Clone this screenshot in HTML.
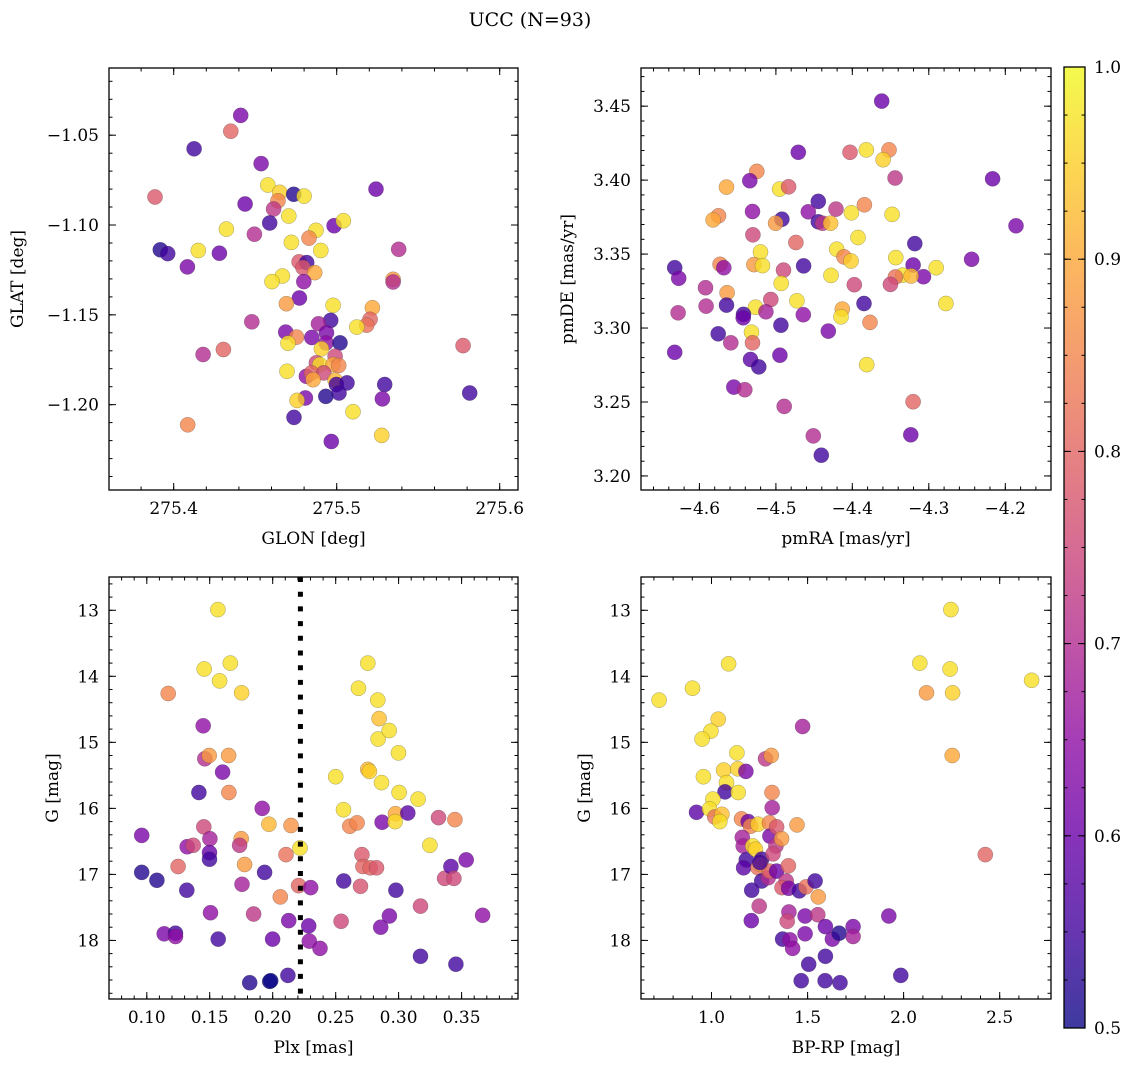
<!DOCTYPE html>
<html><head><meta charset="utf-8">
<style>
html,body{margin:0;padding:0;background:#fff;}
svg text{font-family:"DejaVu Serif","Liberation Serif",serif;fill:#000;}
</style></head>
<body>
<svg id="fig" width="1136" height="1067" viewBox="0 0 1136 1067" xmlns="http://www.w3.org/2000/svg">
<text x="530" y="26" font-size="19" text-anchor="middle">UCC (N=93)</text>
<defs>
<linearGradient id="plasma" x1="0" y1="1" x2="0" y2="0">
<stop offset="0" stop-color="#0d0887"/><stop offset="0.1" stop-color="#41049d"/><stop offset="0.2" stop-color="#6a00a8"/><stop offset="0.3" stop-color="#8f0da4"/><stop offset="0.4" stop-color="#b12a90"/><stop offset="0.5" stop-color="#cc4778"/><stop offset="0.6" stop-color="#e16462"/><stop offset="0.7" stop-color="#f2844b"/><stop offset="0.8" stop-color="#fca636"/><stop offset="0.9" stop-color="#fcce25"/><stop offset="1" stop-color="#f0f921"/>
</linearGradient>
</defs>
</svg>
<script>
// ---- Panel 1: GLON / GLAT ----
const glon = [275.4411,275.4350,275.4125,275.4536,275.3885,275.5241,275.4577,275.4650,275.4736,275.4800,275.4640,275.4438,275.4613,275.4706,275.4589,275.4323,275.4495,275.4984,275.5041,275.4873,275.4830,275.4722,275.4902,275.5380,275.3918,275.3963,275.4151,275.4280,275.4084,275.4769,275.4816,275.4793,275.4865,275.4667,275.4603,275.4798,275.5346,275.5346,275.4771,275.4691,275.4978,275.5219,275.5205,275.5184,275.5123,275.4963,275.4888,275.4479,275.4687,275.4753,275.4701,275.4847,275.4937,275.4935,275.4906,275.5020,275.4180,275.4305,275.5775,275.4990,275.4875,275.4896,275.4978,275.5012,275.4695,275.4814,275.4845,275.4920,275.4855,275.4990,275.4998,275.5063,275.5294,275.5014,275.4933,275.4808,275.4757,275.5280,275.5816,275.4738,275.5100,275.4086,275.5276,275.4967];
const glat = [-1.0390,-1.0478,-1.0576,-1.0658,-1.0844,-1.0800,-1.0777,-1.0818,-1.0829,-1.0839,-1.0865,-1.0883,-1.0911,-1.0950,-1.0989,-1.1023,-1.1051,-1.1004,-1.0976,-1.1030,-1.1073,-1.1097,-1.1142,-1.1135,-1.1138,-1.1159,-1.1142,-1.1157,-1.1233,-1.1205,-1.1209,-1.1237,-1.1265,-1.1284,-1.1315,-1.1315,-1.1302,-1.1317,-1.1406,-1.1438,-1.1447,-1.1460,-1.1525,-1.1557,-1.1568,-1.1531,-1.1550,-1.1539,-1.1596,-1.1624,-1.1658,-1.1626,-1.1600,-1.1656,-1.1689,-1.1656,-1.1721,-1.1693,-1.1671,-1.1730,-1.1767,-1.1777,-1.1777,-1.1782,-1.1814,-1.1842,-1.1823,-1.1823,-1.1861,-1.1864,-1.1888,-1.1879,-1.1888,-1.1935,-1.1954,-1.1963,-1.1976,-1.1968,-1.1935,-1.2071,-1.2039,-1.2112,-1.2171,-1.2205];
const prob1 = [0.62,0.8,0.55,0.62,0.78,0.6,0.97,0.95,0.52,0.97,0.85,0.6,0.72,0.97,0.55,0.97,0.7,0.6,0.97,0.97,0.85,0.97,0.97,0.7,0.52,0.55,0.97,0.6,0.62,0.78,0.55,0.78,0.9,0.97,0.97,0.65,0.88,0.7,0.6,0.88,0.97,0.9,0.8,0.82,0.97,0.55,0.68,0.7,0.62,0.85,0.97,0.62,0.62,0.65,0.95,0.52,0.7,0.8,0.78,0.75,0.75,0.97,0.9,0.85,0.97,0.65,0.8,0.75,0.9,0.92,0.55,0.55,0.55,0.55,0.52,0.62,0.95,0.62,0.55,0.55,0.97,0.85,0.95,0.6];
// ---- Panel 2: pmRA / pmDE ----
const pmra = [-4.3616,-4.4707,-4.4031,-4.3817,-4.3520,-4.3598,-4.3441,-4.2166,-4.5249,-4.5341,-4.5646,-4.4952,-4.4834,-4.4445,-4.4214,-4.3843,-4.5306,-4.4576,-4.4013,-4.3480,-4.5751,-4.5821,-4.4921,-4.5004,-4.4445,-4.4389,-4.4284,-4.1860,-4.5301,-4.4738,-4.3926,-4.3183,-4.5201,-4.4205,-4.4109,-4.4017,-4.3432,-4.2441,-4.6323,-4.6271,-4.5729,-4.5681,-4.5288,-4.5175,-4.4638,-4.4900,-4.3205,-4.2904,-4.3070,-4.3341,-4.3231,-4.3437,-4.3502,-4.4279,-4.3974,-4.4930,-4.5921,-4.5638,-4.5066,-4.4725,-4.5913,-4.5646,-4.6279,-4.3847,-4.4131,-4.4148,-4.2777,-4.5266,-4.5131,-4.5424,-4.5428,-4.4642,-4.4934,-4.3769,-4.4314,-4.5755,-4.5319,-4.5306,-4.5590,-4.6323,-4.4948,-4.5332,-4.5223,-4.3812,-4.5550,-4.5406,-4.4891,-4.3205,-4.4511,-4.3236,-4.4406];
const pmde = [3.4534,3.4188,3.4188,3.4204,3.4204,3.4138,3.4014,3.4009,3.4059,3.3996,3.3953,3.3939,3.3955,3.3856,3.3804,3.3833,3.3788,3.3786,3.3779,3.3768,3.3759,3.3731,3.3736,3.3709,3.3718,3.3709,3.3709,3.3691,3.3630,3.3578,3.3612,3.3571,3.3514,3.3533,3.3481,3.3453,3.3476,3.3465,3.3408,3.3336,3.3431,3.3408,3.3429,3.3422,3.3420,3.3392,3.3426,3.3408,3.3347,3.3358,3.3352,3.3345,3.3295,3.3356,3.3293,3.3302,3.3273,3.3239,3.3193,3.3184,3.3148,3.3155,3.3103,3.3166,3.3128,3.3076,3.3166,3.3141,3.3110,3.3092,3.3069,3.3090,3.3019,3.3038,3.2979,3.2961,3.2972,3.2900,3.2900,3.2836,3.2816,3.2787,3.2737,3.2753,3.2601,3.2583,3.2470,3.2502,3.2271,3.2278,3.2140];
const prob2 = [0.6,0.6,0.78,0.97,0.85,0.95,0.72,0.6,0.85,0.62,0.9,0.97,0.78,0.55,0.72,0.85,0.65,0.65,0.97,0.97,0.85,0.9,0.55,0.88,0.55,0.72,0.93,0.62,0.75,0.8,0.97,0.55,0.97,0.97,0.85,0.95,0.97,0.62,0.55,0.62,0.85,0.65,0.88,0.97,0.55,0.75,0.6,0.97,0.62,0.97,0.92,0.82,0.75,0.97,0.75,0.97,0.7,0.88,0.75,0.97,0.7,0.55,0.7,0.55,0.9,0.97,0.97,0.97,0.68,0.55,0.6,0.65,0.55,0.85,0.62,0.55,0.97,0.8,0.7,0.6,0.6,0.58,0.55,0.97,0.62,0.7,0.7,0.8,0.7,0.6,0.55];
// ---- Panel 3: Plx / G ----
const plx = [0.096,0.096,0.108,0.117,0.1138,0.1228,0.1228,0.1249,0.1318,0.1321,0.1369,0.1414,0.1448,0.1456,0.1461,0.1496,0.1453,0.1501,0.1498,0.1498,0.1506,0.1565,0.1578,0.1602,0.1567,0.1663,0.1650,0.1652,0.1753,0.1750,0.1737,0.1777,0.1756,0.1848,0.1817,0.1917,0.1936,0.1970,0.1999,0.1976,0.1984,0.2060,0.2106,0.2145,0.2127,0.2121,0.2217,0.2206,0.2302,0.2286,0.2291,0.2376,0.2500,0.2562,0.2564,0.2543,0.2612,0.2670,0.2681,0.2697,0.2708,0.2716,0.2755,0.2755,0.2768,0.2774,0.2824,0.2835,0.2845,0.2837,0.2864,0.2869,0.2858,0.2925,0.2927,0.2975,0.2972,0.2978,0.2999,0.3004,0.3073,0.3155,0.3174,0.3174,0.3248,0.3317,0.3365,0.3415,0.3439,0.3447,0.3455,0.3537,0.3667];
const gmag3 = [16.41,16.97,17.09,14.26,17.90,17.89,17.94,16.88,17.24,16.58,16.56,15.76,14.75,13.89,15.25,15.20,16.28,16.46,16.67,16.77,17.58,12.99,14.07,15.45,17.98,13.80,15.20,15.76,14.25,16.46,16.56,16.85,17.15,17.60,18.64,16.00,16.97,16.24,17.98,18.62,18.61,17.34,16.70,16.26,17.70,18.53,16.60,17.17,17.20,17.78,18.01,18.12,15.52,16.02,17.10,17.71,16.27,16.22,14.18,17.18,16.70,16.88,13.80,15.41,15.44,16.90,16.90,14.36,14.64,14.95,15.61,16.21,17.80,14.82,17.63,16.08,16.20,17.24,15.16,15.76,16.07,15.86,17.48,18.24,16.56,16.14,17.06,16.88,17.06,16.17,18.36,16.78,17.62];
const prob3 = [0.62,0.52,0.52,0.85,0.62,0.55,0.65,0.8,0.55,0.65,0.75,0.55,0.65,0.97,0.7,0.88,0.75,0.68,0.6,0.55,0.65,0.97,0.97,0.62,0.55,0.97,0.88,0.85,0.95,0.88,0.72,0.88,0.68,0.72,0.52,0.65,0.55,0.92,0.6,0.5,0.5,0.85,0.82,0.87,0.62,0.55,0.97,0.8,0.65,0.6,0.65,0.65,0.97,0.97,0.55,0.75,0.85,0.85,0.97,0.77,0.78,0.8,0.97,0.92,0.95,0.8,0.78,0.97,0.93,0.97,0.97,0.62,0.62,0.97,0.62,0.9,0.96,0.55,0.97,0.97,0.58,0.97,0.75,0.55,0.97,0.75,0.75,0.58,0.75,0.85,0.55,0.62,0.65];
const plxCut = 0.222;
// ---- Panel 4: BP-RP / G ----
const bprp = [0.727,0.901,1.089,1.035,0.997,0.951,1.132,0.958,1.063,1.137,1.179,1.078,1.070,1.139,1.007,0.922,0.990,1.017,1.054,1.043,1.156,1.191,1.203,1.242,1.160,1.165,1.181,1.167,1.215,1.229,1.261,1.242,1.255,1.261,1.295,1.302,1.209,1.248,1.207,1.281,1.311,1.315,1.316,1.302,1.304,1.339,1.335,1.320,1.365,1.339,1.400,1.389,1.367,1.401,1.445,1.474,1.457,1.492,1.539,1.556,1.403,1.394,1.487,1.553,1.370,1.408,1.422,1.487,1.593,1.629,1.664,1.737,1.737,1.506,1.593,1.467,1.591,1.669,1.985,1.923,2.084,2.246,2.242,2.119,2.255,2.253,2.425,2.666,1.252];
const gmag4 = [14.36,14.18,13.81,14.65,14.83,14.95,15.16,15.52,15.42,15.40,15.44,15.61,15.75,15.76,15.86,16.06,16.01,16.13,16.09,16.20,16.16,16.20,16.27,16.24,16.44,16.57,16.78,16.90,16.57,16.62,16.77,16.90,16.85,17.10,17.05,16.95,17.24,17.48,17.70,15.25,15.20,15.76,15.99,16.22,16.42,16.28,16.57,16.69,16.46,16.95,16.87,17.10,17.20,17.21,16.25,14.76,17.25,17.19,17.10,17.34,17.57,17.71,17.63,17.61,17.98,17.99,18.12,17.90,17.79,17.98,17.89,17.79,17.94,18.36,18.24,18.61,18.61,18.64,18.53,17.63,13.80,12.99,13.89,14.25,14.25,15.20,16.70,14.06,16.82];
const prob4 = [0.97,0.97,0.97,0.95,0.97,0.97,0.97,0.97,0.95,0.95,0.62,0.97,0.55,0.97,0.97,0.58,0.97,0.82,0.93,0.97,0.85,0.6,0.85,0.95,0.68,0.68,0.55,0.58,0.97,0.95,0.55,0.82,0.88,0.55,0.7,0.8,0.55,0.72,0.6,0.72,0.88,0.85,0.68,0.85,0.62,0.78,0.72,0.75,0.88,0.6,0.8,0.72,0.78,0.62,0.88,0.68,0.55,0.82,0.55,0.88,0.68,0.75,0.62,0.72,0.55,0.65,0.65,0.62,0.6,0.62,0.52,0.62,0.68,0.55,0.55,0.55,0.55,0.55,0.55,0.62,0.97,0.97,0.97,0.88,0.95,0.9,0.8,0.97,0.55];
// ---- colorbar ----
const cbTicks = [0.5,0.6,0.7,0.8,0.9,1.0];
const cbLabels = ["0.5","0.6","0.7","0.8","0.9","1.0"];

const NS = "http://www.w3.org/2000/svg";
const svg = document.getElementById('fig');
const FS = 17;
const stops = [[13,8,135],[65,4,157],[106,0,168],[143,13,164],[177,42,144],[204,71,120],[225,100,98],[242,132,75],[252,166,54],[252,206,37],[240,249,33]];
function cmap(v){
  let t = Math.max(0, Math.min(1, (v - 0.5) / 0.5)) * 10;
  const i = Math.min(9, Math.floor(t)), f = t - i;
  const a = stops[i], b = stops[i+1];
  return 'rgb(' + [0,1,2].map(k => Math.round(a[k] + (b[k]-a[k])*f)).join(',') + ')';
}
function el(tag, attrs, parent){
  const e = document.createElementNS(NS, tag);
  for (const k in attrs) e.setAttribute(k, attrs[k]);
  (parent || svg).appendChild(e);
  return e;
}
function fmt(v, d){ return v.toFixed(d).replace('-', '\u2212'); }

function panel(cfg){
  const g = el('g', {});
  
  
  const L = cfg.box[0], R = cfg.box[1], T = cfg.box[2], B = cfg.box[3];
  const sx = v => L + (v - cfg.xlim[0]) / (cfg.xlim[1] - cfg.xlim[0]) * (R - L);
  const sy = v => T + (v - cfg.ylim[0]) / (cfg.ylim[1] - cfg.ylim[0]) * (B - T);
  const pg = el('g', {}, g);
  
  
  for (let i = 0; i < cfg.xs.length; i++){
    const c = el('circle', {cx: sx(cfg.xs[i]).toFixed(1), cy: sy(cfg.ys[i]).toFixed(1), r: 7.6, fill: cmap(cfg.cs[i]), 'fill-opacity': 0.8, stroke: 'rgba(60,60,60,0.45)', 'stroke-width': 0.5}, pg);
    
    
  }
  if (cfg.vline !== undefined){
    const vl = el('line', {x1: sx(cfg.vline), x2: sx(cfg.vline), y1: T, y2: B, stroke: '#000', 'stroke-width': 5, 'stroke-dasharray': '5 9.7'}, g);
    
    
  }
  const fr = el('rect', {x: L, y: T, width: R - L, height: B - T, fill: 'none', stroke: '#000', 'stroke-width': 1.3}, g);
  
  
  const tk = el('g', {stroke: '#000', 'stroke-width': 1}, g);
  
  
  const xmin = Math.min(cfg.xlim[0], cfg.xlim[1]), xmax = Math.max(cfg.xlim[0], cfg.xlim[1]);
  const ymin = Math.min(cfg.ylim[0], cfg.ylim[1]), ymax = Math.max(cfg.ylim[0], cfg.ylim[1]);
  for (let v = Math.ceil(xmin / cfg.xminor) * cfg.xminor; v <= xmax; v += cfg.xminor){
    const x = sx(v).toFixed(1);
    el('line', {x1: x, x2: x, y1: B, y2: B - 3.5}, tk);
    el('line', {x1: x, x2: x, y1: T, y2: T + 3.5}, tk);
  }
  for (let v = Math.ceil(ymin / cfg.yminor) * cfg.yminor; v <= ymax; v += cfg.yminor){
    const y = sy(v).toFixed(1);
    el('line', {x1: L, x2: L + 3.5, y1: y, y2: y}, tk);
    el('line', {x1: R, x2: R - 3.5, y1: y, y2: y}, tk);
  }
  cfg.xticks.forEach(v => {
    const x = sx(v).toFixed(1);
    el('line', {x1: x, x2: x, y1: B, y2: B - 7}, tk);
    el('line', {x1: x, x2: x, y1: T, y2: T + 7}, tk);
    const t = el('text', {x: x, y: B + 24, 'font-size': FS, 'text-anchor': 'middle'}, g);
    t.textContent = fmt(v, cfg.xdec);
    
    
  });
  cfg.yticks.forEach(v => {
    const y = sy(v);
    el('line', {x1: L, x2: L + 7, y1: y, y2: y}, tk);
    el('line', {x1: R, x2: R - 7, y1: y, y2: y}, tk);
    const t = el('text', {x: L - 10, y: y + 6, 'font-size': FS, 'text-anchor': 'end'}, g);
    t.textContent = fmt(v, cfg.ydec);
    
    
  });
  const xt = el('text', {x: (L + R) / 2, y: B + 54, 'font-size': FS, 'text-anchor': 'middle'}, g);
  xt.textContent = cfg.xlabel;
  
  
  const yt = el('text', {x: 0, y: 0, 'font-size': FS, 'text-anchor': 'middle', transform: 'translate(' + cfg.ylabx + ',' + ((T + B) / 2) + ') rotate(-90)'}, g);
  yt.textContent = cfg.ylabel;
  
  
}

panel({name: 'glon-glat-panel', box: [109, 518, 68, 490], xlim: [275.3603, 275.6112], ylim: [-1.0126, -1.2475],
  xs: glon, ys: glat, cs: prob1, xticks: [275.4, 275.5, 275.6], yticks: [-1.05, -1.10, -1.15, -1.20], xdec: 1, ydec: 2,
  xminor: 0.02, yminor: 0.01, xlabel: 'GLON [deg]', ylabel: 'GLAT [deg]', ylabx: 23});
panel({name: 'pmra-pmde-panel', box: [641, 1051, 68, 490], xlim: [-4.6764, -4.1402], ylim: [3.4758, 3.1905],
  xs: pmra, ys: pmde, cs: prob2, xticks: [-4.6, -4.5, -4.4, -4.3, -4.2], yticks: [3.45, 3.40, 3.35, 3.30, 3.25, 3.20], xdec: 1, ydec: 2,
  xminor: 0.02, yminor: 0.01, xlabel: 'pmRA [mas/yr]', ylabel: 'pmDE [mas/yr]', ylabx: 573});
panel({name: 'plx-g-panel', box: [109, 518, 577, 999], xlim: [0.070, 0.3948], ylim: [12.496, 18.887],
  xs: plx, ys: gmag3, cs: prob3, xticks: [0.10, 0.15, 0.20, 0.25, 0.30, 0.35], yticks: [13, 14, 15, 16, 17, 18], xdec: 2, ydec: 0,
  xminor: 0.01, yminor: 0.2, xlabel: 'Plx [mas]', ylabel: 'G [mag]', ylabx: 58, vline: plxCut});
panel({name: 'color-g-panel', box: [641, 1051, 577, 999], xlim: [0.633, 2.767], ylim: [12.496, 18.887],
  xs: bprp, ys: gmag4, cs: prob4, xticks: [1.0, 1.5, 2.0, 2.5], yticks: [13, 14, 15, 16, 17, 18], xdec: 1, ydec: 0,
  xminor: 0.1, yminor: 0.2, xlabel: 'BP-RP [mag]', ylabel: 'G [mag]', ylabx: 590});

(function(){
  const L = 1064, R = 1085, T = 67, B = 1028;
  const g = el('g', {});
  
  
  el('rect', {x: L, y: T, width: R - L, height: B - T, fill: 'url(#plasma)', 'fill-opacity': 0.8}, g);
  el('rect', {x: L, y: T, width: R - L, height: B - T, fill: 'none', stroke: '#000', 'stroke-width': 1.3}, g);
  const cy = v => B - (v - 0.5) / 0.5 * (B - T);
  for (let v = 0.525; v < 1.0; v += 0.025){
    el('line', {x1: L, x2: L + 3.5, y1: cy(v), y2: cy(v), stroke: '#000', 'stroke-width': 1}, g);
    el('line', {x1: R, x2: R - 3.5, y1: cy(v), y2: cy(v), stroke: '#000', 'stroke-width': 1}, g);
  }
  cbTicks.forEach((v, i) => {
    el('line', {x1: R, x2: R - 7, y1: cy(v), y2: cy(v), stroke: '#000', 'stroke-width': 1}, g);
    el('line', {x1: L, x2: L + 7, y1: cy(v), y2: cy(v), stroke: '#000', 'stroke-width': 1}, g);
    const t = el('text', {x: R + 9, y: cy(v) + 6, 'font-size': FS}, g);
    t.textContent = cbLabels[i];
    
    
  });
})();
</script>
</body></html>
